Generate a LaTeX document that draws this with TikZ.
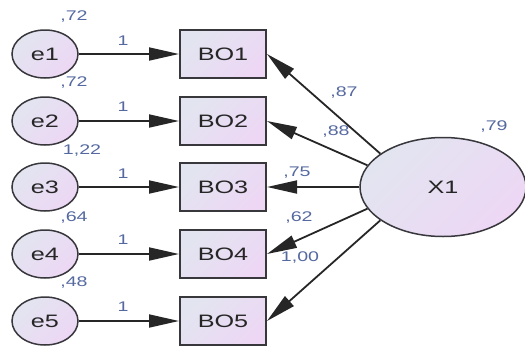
\documentclass[tikz,border=0pt]{standalone}
\usepackage{fontspec}
\setmainfont[FakeStretch=1.4]{Liberation Sans}
\usepackage{color}
\usetikzlibrary{arrows.meta,shapes.geometric}
\definecolor{fillA}{RGB}{226,229,240}
\definecolor{fillB}{RGB}{237,215,245}
\definecolor{edgegray}{RGB}{55,55,60}
\definecolor{labblue}{RGB}{85,105,160}

\begin{document}
\begin{tikzpicture}[x=1pt,y=-1pt,
		latent/.style={ellipse, draw=edgegray, line width=1.5pt, inner sep=0pt,
			left color=fillA, right color=fillB, shading angle=45,
			font=\fontsize{18}{18}\selectfont, text=black!85},
		obs/.style={rectangle, draw=edgegray, line width=2pt, inner sep=0pt,
			minimum width=86pt, minimum height=48pt,
			left color=fillA, right color=fillB, shading angle=45,
			font=\fontsize{18}{18}\selectfont, text=black!85},
		err/.style={latent, minimum width=66pt, minimum height=48pt},
		arr/.style={-{Triangle[length=30pt,width=13pt]}, line width=1.8pt, draw=black!85},
		lab/.style={font=\fontsize{14}{14}\selectfont, text=labblue, inner sep=0pt}]
	\useasboundingbox (0,0) rectangle (525,354);
	% error terms
	\node [err] (e1) at (45,54) {e1};
	\node [err] (e2) at (45,121) {e2};
	\node [err] (e3) at (45,187) {e3};
	\node [err] (e4) at (45,254) {e4};
	\node [err] (e5) at (45,321) {e5};
	% observed items
	\node [obs] (BO1) at (223,54) {BO1};
	\node [obs] (BO2) at (223,121) {BO2};
	\node [obs] (BO3) at (223,187) {BO3};
	\node [obs] (BO4) at (223,254) {BO4};
	\node [obs] (BO5) at (223,321) {BO5};
	% factor
	\node [latent, minimum width=166pt, minimum height=99pt] (X1) at (443,187) {X1};
	% error paths
	\draw [arr] (e1) -- (BO1);
	\draw [arr] (e2) -- (BO2);
	\draw [arr] (e3) -- (BO3);
	\draw [arr] (e4) -- (BO4);
	\draw [arr] (e5) -- (BO5);
	% loadings
	\draw [arr] (X1.152) -- (BO1.east);
	\draw [arr] (X1.164) -- (BO2.east);
	\draw [arr] (X1.west) -- (BO3.east);
	\draw [arr] (X1.196) -- (BO4.east);
	\draw [arr] (X1.208) -- (BO5.east);
	% variances
	\node [lab] (v1) at (74,17) {,72};
	\node [lab] (v2) at (74,83) {,72};
	\node [lab] (v3) at (82,151) {1,22};
	\node [lab] (v4) at (74,218) {,64};
	\node [lab] (v5) at (74,283) {,48};
	\node [lab] (vx) at (494,127) {,79};
	% fixed paths
	\node [lab] (p1) at (123,41) {1};
	\node [lab] (p2) at (123,107) {1};
	\node [lab] (p3) at (123,174) {1};
	\node [lab] (p4) at (123,240) {1};
	\node [lab] (p5) at (123,307) {1};
	% estimates
	\node [lab] (w1) at (344,93) {,87};
	\node [lab] (w2) at (336,132) {,88};
	\node [lab] (w3) at (297,173) {,75};
	\node [lab] (w4) at (299,218) {,62};
	\node [lab] (w5) at (300,258) {1,00};
\end{tikzpicture}
\end{document}
